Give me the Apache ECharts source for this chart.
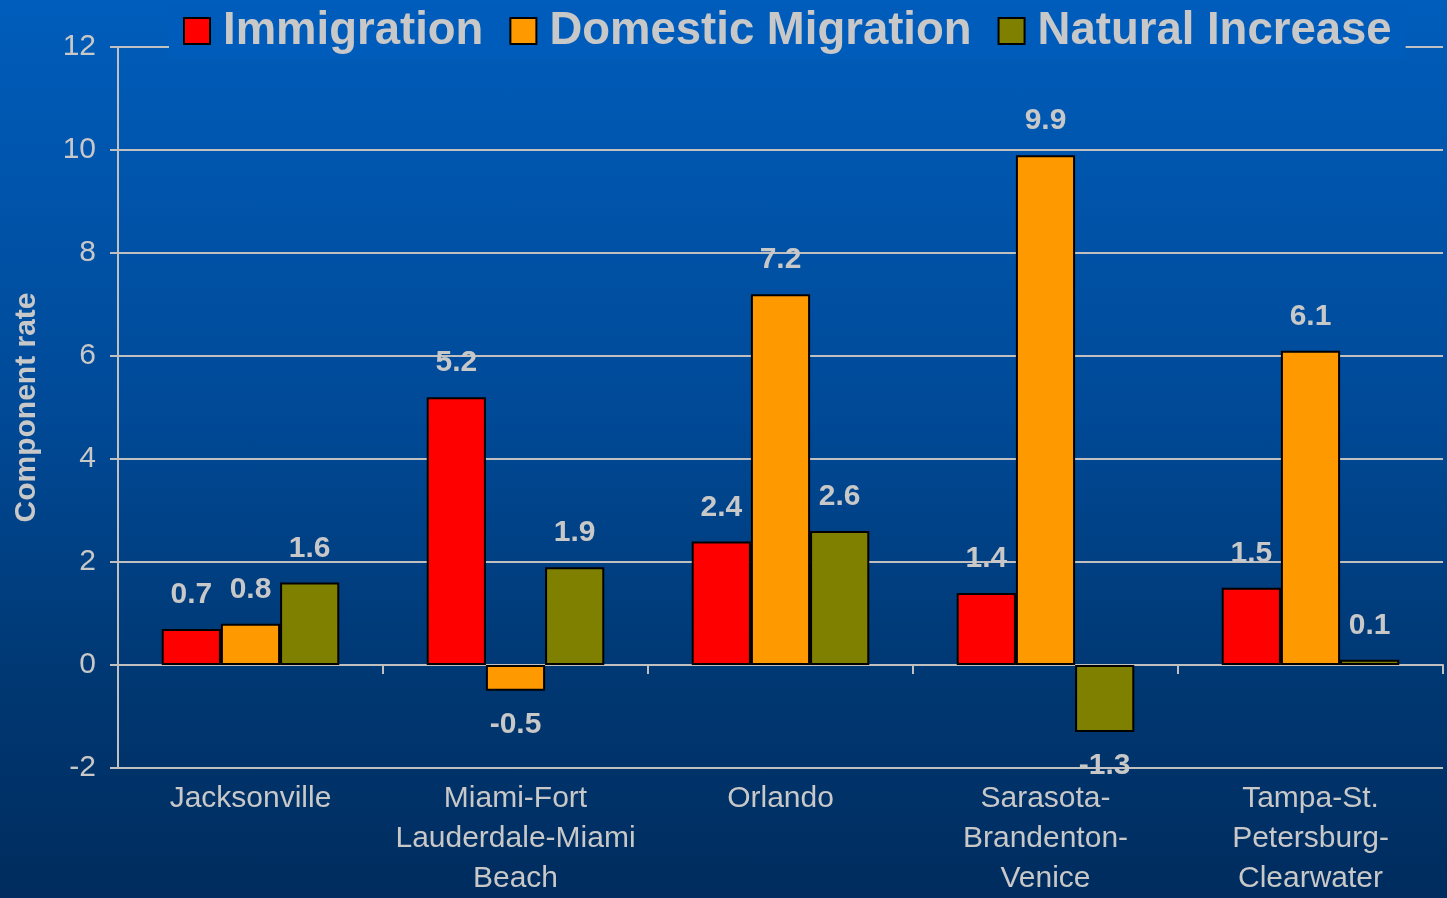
<!DOCTYPE html>
<html>
<head>
<meta charset="utf-8">
<script src="https://cdn.jsdelivr.net/npm/echarts@6/dist/echarts.min.js"></script>
<style>
    html, body { margin: 0; padding: 0; }
    body {
        width: 1447px; height: 898px;
        background: linear-gradient(to bottom, #005dbb 0%, #004a98 45%, #003873 75%, #002c5e 100%);
    }
    #chart { width: 1447px; height: 898px; }
</style>
</head>
<body>
<div id="chart"></div>
<script>
    var cities = ['Jacksonville', 'Miami-Fort\nLauderdale-Miami\nBeach', 'Orlando', 'Sarasota-\nBrandenton-\nVenice', 'Tampa-St.\nPetersburg-\nClearwater'];
    var immigration = [0.7, 5.2, 2.4, 1.4, 1.5];
    var domestic = [0.8, -0.5, 7.2, 9.9, 6.1];
    var natural = [1.6, 1.9, 2.6, -1.3, 0.1];
    var seriesNames = ['Immigration', 'Domestic Migration', 'Natural Increase'];
    var seriesColors = ['#ff0000', '#ff9900', '#808000'];

    var TEXT = '#c8c8c8';
    var FONT = 'Liberation Sans, Arial, sans-serif';

    // negative bars get their label under the bar end
    function withLabels(values) {
        return values.map(function (v) {
            return {
                value: v,
                label: { position: v < 0 ? 'bottom' : 'top' }
            };
        });
    }

    var chart = echarts.init(document.getElementById('chart'));

    var allSeries = [immigration, domestic, natural].map(function (vals, i) {
        return {
            name: seriesNames[i],
            type: 'bar',
            xAxisIndex: 0,
            barGap: '0%',
            barCategoryGap: '33%',
            data: withLabels(vals),
            itemStyle: { color: seriesColors[i], borderColor: '#000', borderWidth: 2 },
            label: {
                show: true,
                distance: 19,
                color: TEXT,
                fontFamily: FONT,
                fontWeight: 'bold',
                fontSize: 30
            }
        };
    });

    var option = {
        backgroundColor: 'transparent',
        animation: false,
        legend: {
            data: seriesNames,
            left: 169,
            top: 4,
            padding: [4, 14, 4, 14],
            backgroundColor: '#005cba',
            itemWidth: 26,
            itemHeight: 26,
            itemGap: 26,
            icon: 'rect',
            itemStyle: { borderColor: '#000', borderWidth: 2 },
            textStyle: {
                color: TEXT,
                fontFamily: FONT,
                fontWeight: 'bold',
                fontSize: 45.5,
                padding: [0, 0, 0, 8]
            }
        },
        grid: { left: 118, right: 4, top: 47, bottom: 130, containLabel: false, outerBoundsMode: 'none' },
        xAxis: [
            {
                type: 'category',
                data: cities,
                axisLine: { show: false, onZero: false },
                axisTick: { show: false },
                axisLabel: {
                    color: TEXT,
                    fontFamily: FONT,
                    fontSize: 30,
                    lineHeight: 40,
                    margin: 11,
                    interval: 0
                },
                splitLine: { show: false }
            },
            {
                type: 'category',
                data: cities,
                position: 'bottom',
                axisLine: { show: true, onZero: true, onZeroAxisIndex: 0, lineStyle: { color: '#c0c0c0', width: 2 } },
                axisTick: { show: true, inside: false, length: 9, lineStyle: { color: '#c0c0c0', width: 2 } },
                axisLabel: { show: false },
                splitLine: { show: false }
            }
        ],
        yAxis: {
            type: 'value',
            min: -2,
            max: 12,
            interval: 2,
            name: 'Component rate',
            nameLocation: 'middle',
            nameGap: 76,
            nameRotate: 90,
            nameTextStyle: { color: TEXT, fontFamily: FONT, fontWeight: 'bold', fontSize: 30 },
            axisLine: { show: true, lineStyle: { color: '#c0c0c0', width: 2 } },
            axisTick: { show: true, length: 8, lineStyle: { color: '#c0c0c0', width: 2 } },
            axisLabel: { color: TEXT, fontFamily: FONT, fontSize: 30, margin: 22 },
            splitLine: { show: true, lineStyle: { color: '#c0c0c0', width: 2 } }
        },
        series: allSeries
    };

    chart.setOption(option);
</script>
</body>
</html>
